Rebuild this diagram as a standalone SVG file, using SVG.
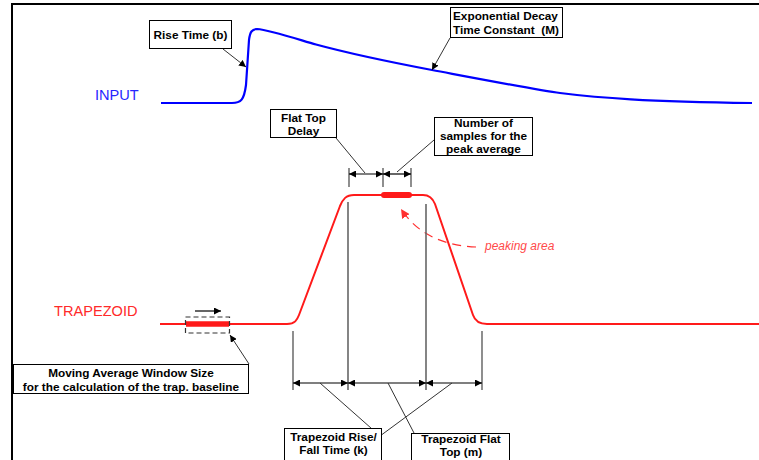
<svg xmlns="http://www.w3.org/2000/svg" width="759" height="460" viewBox="0 0 759 460">
<style>
.box{fill:#fff;stroke:#000;stroke-width:1}
.lbl{font-family:"Liberation Sans",Arial,sans-serif;font-weight:bold;font-size:11.8px;fill:#000;white-space:pre}
.lead{fill:none;stroke:#333;stroke-width:1}
.dim{fill:none;stroke:#000;stroke-width:1.2;marker-start:url(#ah);marker-end:url(#ah)}
.vline{stroke:#666;stroke-width:1.6}
.tick{stroke:#444;stroke-width:1.2}
</style>
<defs>
<marker id="ah" viewBox="0 0 10 10" refX="10" refY="5" markerWidth="7" markerHeight="7" markerUnits="userSpaceOnUse" orient="auto-start-reverse">
<path d="M0,0 L10,5 L0,10 Z" fill="#000"/>
</marker>
<marker id="ahr" viewBox="0 0 10 10" refX="10" refY="5" markerWidth="9" markerHeight="9" markerUnits="userSpaceOnUse" orient="auto">
<path d="M0,0 L10,5 L0,10 Z" fill="#ff3030"/>
</marker>
</defs>
<rect width="759" height="460" fill="#fff"/>
<g id="frame">
<line x1="12" y1="4" x2="12" y2="460" stroke="#000" stroke-width="2"/>
<line x1="11" y1="4" x2="759" y2="4" stroke="#000" stroke-width="2"/>
</g>
<g id="input">
<text x="95" y="99.5" font-family="Liberation Sans,Arial,sans-serif" font-size="14.6" fill="#2626ff">INPUT</text>
<path d="M161,103 L232,103 C241,103 244,100 246,85 L249,40 C250,32 252,29 257,29 C270,30 300,40 316,44.5 C340,51 374,59 432,70 C480,79 539,90.3 560,93 C600,98 645,101.5 752,103" fill="none" stroke="#0000ff" stroke-width="2.2"/>
</g>
<g id="trapezoid">
<text x="54" y="316" font-family="Liberation Sans,Arial,sans-serif" font-size="14.6" fill="#ff2a2a">TRAPEZOID</text>
<path d="M160,324 L287,324 C295,324 297,320 299,315 L340,206 C343,199 346,195 354,195 L423,195 C430,195 433,199 435,204 L473,315 C475,321 479,324 487,324 L759,324" fill="none" stroke="#ff1a1a" stroke-width="2"/>
<line x1="384" y1="195" x2="409" y2="195" stroke="#ff1a1a" stroke-width="6" stroke-linecap="round"/>
</g>
<g id="window">
<line x1="186" y1="324" x2="229" y2="324" stroke="#ff1a1a" stroke-width="5.5"/>
<rect x="185.5" y="317" width="44" height="16" fill="none" stroke="#333" stroke-width="1.2" stroke-dasharray="5,3"/>
<line x1="195" y1="311" x2="221" y2="311" stroke="#000" stroke-width="1.2" marker-end="url(#ah)"/>
</g>
<g id="peaking">
<path d="M476,247 C450,246 420,238 401,209" fill="none" stroke="#ff3030" stroke-width="1.2" stroke-dasharray="9,6" marker-end="url(#ahr)"/>
<text x="485" y="250" font-family="Liberation Sans,Arial,sans-serif" font-style="italic" font-size="12" fill="#ff4a4a">peaking area</text>
</g>
<g id="connectors">
<line class="vline" x1="348" y1="202" x2="348" y2="390"/>
<line class="vline" x1="426" y1="204" x2="426" y2="390"/>
<line class="tick" x1="293" y1="331" x2="293" y2="390"/>
<line class="tick" x1="482" y1="331" x2="482" y2="390"/>
<line class="tick" x1="349" y1="168" x2="349" y2="187"/>
<line class="tick" x1="383" y1="168" x2="383" y2="187"/>
<line class="tick" x1="411" y1="168" x2="411" y2="187"/>
<line class="dim" x1="349" y1="174" x2="383" y2="174"/>
<line class="dim" x1="383" y1="174" x2="411" y2="174"/>
<line class="dim" x1="293" y1="383" x2="348" y2="383"/>
<line class="dim" x1="348" y1="383" x2="426" y2="383"/>
<line class="dim" x1="426" y1="383" x2="482" y2="383"/>
<line class="lead" x1="223" y1="49" x2="246" y2="67" marker-end="url(#ah)"/>
<line class="lead" x1="450" y1="38" x2="432" y2="70" marker-end="url(#ah)"/>
<line class="lead" x1="249" y1="364" x2="230" y2="335" marker-end="url(#ah)"/>
<line class="lead" x1="336" y1="138" x2="365" y2="173"/>
<line class="lead" x1="434" y1="140" x2="397" y2="172"/>
<line class="lead" x1="320" y1="383" x2="380" y2="436"/>
<line class="lead" x1="452" y1="383" x2="380" y2="436"/>
<line class="lead" x1="388" y1="383" x2="414" y2="433"/>
</g>
<g id="rise-time">
<rect class="box" x="149.5" y="20.5" width="82" height="28"/>
<text class="lbl" x="190.5" y="38.5" text-anchor="middle" font-size="12">Rise Time (b)</text>
</g>
<g id="decay">
<rect class="box" x="450.5" y="7.5" width="112" height="30"/>
<text class="lbl" x="453" y="20" font-size="11.4">Exponential Decay</text>
<text class="lbl" x="453" y="34" font-size="11.4" xml:space="preserve">Time Constant  (M)</text>
</g>
<g id="flat-top-delay">
<rect class="box" x="270.5" y="109.5" width="66" height="28"/>
<text class="lbl" x="303.5" y="121.5" text-anchor="middle">Flat Top</text>
<text class="lbl" x="303.5" y="135" text-anchor="middle">Delay</text>
</g>
<g id="num-samples">
<rect class="box" x="434.5" y="117.5" width="98" height="38"/>
<text class="lbl" x="483.5" y="127" text-anchor="middle" font-size="11">Number of</text>
<text class="lbl" x="483.5" y="140" text-anchor="middle" font-size="11">samples for the</text>
<text class="lbl" x="483.5" y="153" text-anchor="middle" font-size="11">peak average</text>
</g>
<g id="moving-average">
<rect class="box" x="13.5" y="364.5" width="235" height="29"/>
<text class="lbl" x="131" y="377" text-anchor="middle">Moving Average Window Size</text>
<text class="lbl" x="131" y="390.5" text-anchor="middle">for the calculation of the trap. baseline</text>
</g>
<g id="rise-fall">
<rect class="box" x="284.5" y="428.5" width="97" height="33"/>
<text class="lbl" x="333.5" y="440.5" text-anchor="middle" font-size="12">Trapezoid Rise/</text>
<text class="lbl" x="333.5" y="454" text-anchor="middle" font-size="12">Fall Time (k)</text>
</g>
<g id="flat-top">
<rect class="box" x="411.5" y="433.5" width="98" height="28"/>
<text class="lbl" x="461" y="442.5" text-anchor="middle" font-size="12">Trapezoid Flat</text>
<text class="lbl" x="461" y="455.5" text-anchor="middle" font-size="12">Top (m)</text>
</g>
</svg>
